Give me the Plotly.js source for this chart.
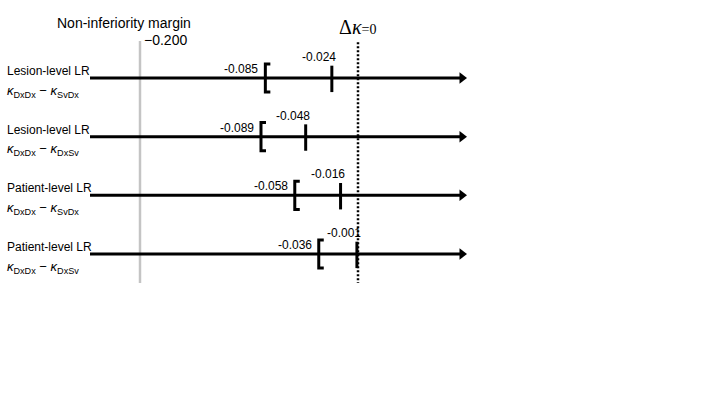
<!DOCTYPE html>
<html>
<head>
<meta charset="utf-8">
<script src="https://cdn.plot.ly/plotly-3.0.1.min.js"></script>
<style>html,body{margin:0;padding:0;background:#fff;}#chart{width:720px;height:405px;}</style>
</head>
<body>
<div id="chart"></div>
<script>
// ---- data ----
const rowTitles = ["Lesion-level LR", "Lesion-level LR", "Patient-level LR", "Patient-level LR"];
const compFirst = ["DxDx", "DxDx", "DxDx", "DxDx"];
const compSecond = ["SvDx", "DxSv", "SvDx", "DxSv"];
const lowerCI = [-0.085, -0.089, -0.058, -0.036];
const estimate = [-0.024, -0.048, -0.016, -0.001];
const marginValue = -0.2;
const marginLabel = "Non-inferiority margin";
const marginTick = "\u22120.200";
const zeroValue = 0;

// ---- layout constants ----
const pxPerUnit = 1090, zeroPx = 358;
const rowPx0 = 78, rowStep = 58.67;
const W = 720, H = 405;
const xRange = [-zeroPx / pxPerUnit, (W - zeroPx) / pxPerUnit];
const yRange = [(H - rowPx0) / rowStep, -rowPx0 / rowStep];
const lineStart = (90 - zeroPx) / pxPerUnit;
const lineEnd = (462 - zeroPx) / pxPerUnit;
const serif = 5 / pxPerUnit;
const vTop = (41 - rowPx0) / rowStep, vBot = (283 - rowPx0) / rowStep;
const rowPaper = i => 1 - (rowPx0 + i * rowStep) / H;

const traces = [];
// margin line (gray)
traces.push({x: [marginValue, marginValue], y: [vTop, vBot], mode: 'lines',
  line: {color: '#c4c4c4', width: 2.5}, hoverinfo: 'skip', showlegend: false});
// zero dotted line
traces.push({x: [zeroValue, zeroValue], y: [vTop + 0.02, vBot], mode: 'lines',
  line: {color: '#000', width: 2.5, dash: '2px,2px'}, hoverinfo: 'skip', showlegend: false});

const font12 = {family: 'Liberation Sans, Arial', size: 12, color: '#000'};
const annotations = [];
rowTitles.forEach((t, i) => {
  // arrow line
  traces.push({x: [lineStart, lineEnd], y: [i, i], mode: 'lines',
    line: {color: '#000', width: 3}, hoverinfo: 'skip', showlegend: false});
  traces.push({x: [lineEnd], y: [i], mode: 'markers',
    marker: {symbol: 'triangle-right', size: 10, color: '#000', line: {width: 0}},
    hoverinfo: 'skip', showlegend: false});
  // bracket at lower CI
  const lo = lowerCI[i];
  traces.push({x: [lo + serif, lo, lo, lo + serif], y: [i - 0.24, i - 0.24, i + 0.24, i + 0.24],
    mode: 'lines', line: {color: '#000', width: 3}, hoverinfo: 'skip', showlegend: false});
  // tick at estimate
  const e = estimate[i];
  traces.push({x: [e, e], y: [i - 0.21, i + 0.24], mode: 'lines',
    line: {color: '#000', width: 3}, hoverinfo: 'skip', showlegend: false});

  const yp = rowPaper(i);
  annotations.push({xref: 'paper', yref: 'paper', x: 5 / W, y: yp, xanchor: 'left', yanchor: 'middle',
    yshift: 7, text: t, showarrow: false, font: font12});
  annotations.push({xref: 'paper', yref: 'paper', x: 5 / W, y: yp, xanchor: 'left', yanchor: 'middle',
    yshift: -13, text: '<i>\u03ba</i><sub>' + compFirst[i] + '</sub> \u2212 <i>\u03ba</i><sub>' + compSecond[i] + '</sub>',
    showarrow: false, font: {family: 'Liberation Sans, Arial', size: 13, color: '#000'}});
  annotations.push({xref: 'x', yref: 'paper', x: lo, y: yp, xanchor: 'right', yanchor: 'middle',
    xshift: -5, yshift: 9, text: lo.toFixed(3), showarrow: false, font: font12});
  annotations.push({xref: 'x', yref: 'paper', x: e, y: yp, xanchor: 'center', yanchor: 'middle',
    xshift: -13, yshift: 21, text: e.toFixed(3), showarrow: false, font: font12});
});

annotations.push({xref: 'x', yref: 'paper', x: marginValue, y: 1 - 23 / H, xanchor: 'center', yanchor: 'middle',
  xshift: -16, text: marginLabel, showarrow: false, font: {family: 'Liberation Sans, Arial', size: 14, color: '#000'}});
annotations.push({xref: 'x', yref: 'paper', x: marginValue, y: 1 - 40 / H, xanchor: 'left', yanchor: 'middle',
  xshift: 2, text: marginTick, showarrow: false, font: {family: 'Liberation Sans, Arial', size: 14, color: '#000'}});
annotations.push({xref: 'x', yref: 'paper', x: zeroValue, y: 1 - 27 / H, xanchor: 'center', yanchor: 'middle',
  xshift: -1, text: '\u0394<i>\u03ba</i><span style="font-size:14px">=0</span>', showarrow: false,
  font: {family: 'Liberation Serif, Times New Roman', size: 20, color: '#000'}});

const layout = {
  width: W, height: H,
  margin: {l: 0, r: 0, t: 0, b: 0},
  paper_bgcolor: '#fff', plot_bgcolor: '#fff',
  xaxis: {range: xRange, visible: false, fixedrange: true},
  yaxis: {range: yRange, visible: false, fixedrange: true},
  showlegend: false,
  annotations: annotations
};
Plotly.newPlot('chart', traces, layout, {displayModeBar: false});
</script>
</body>
</html>
